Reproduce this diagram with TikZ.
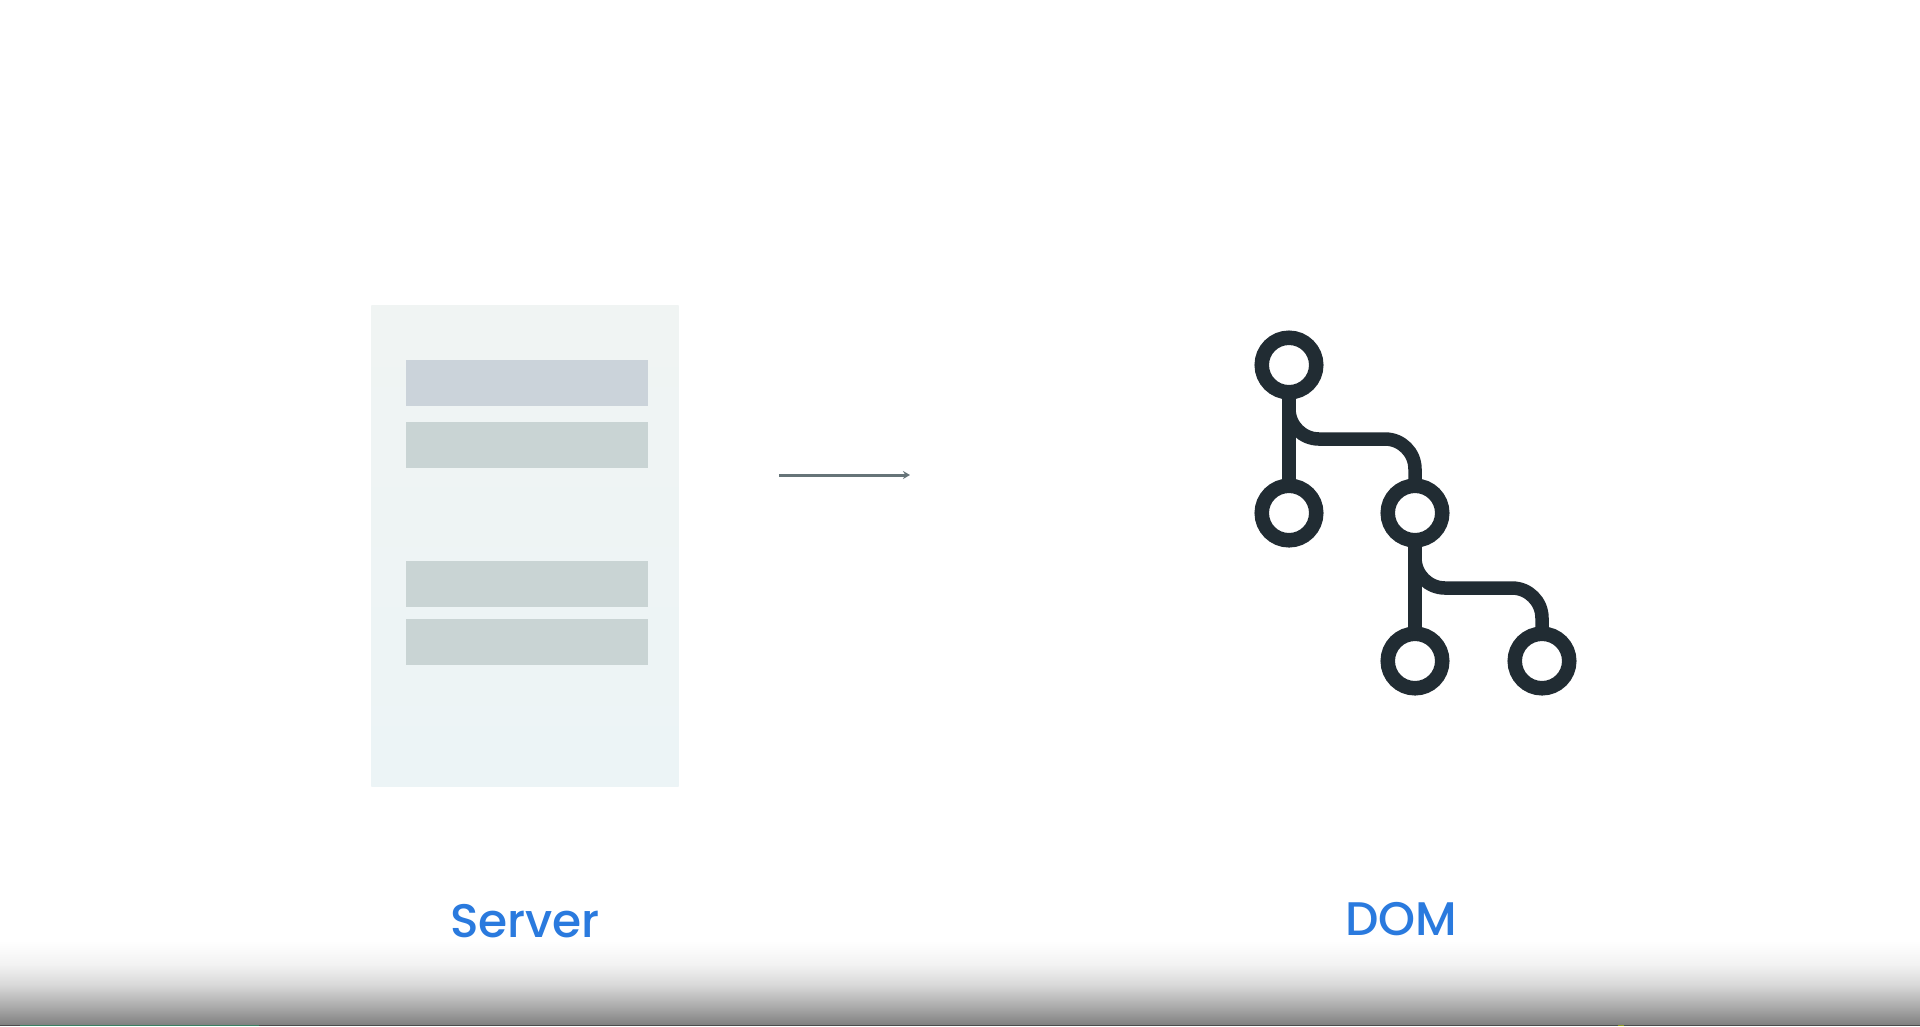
\documentclass[tikz,border=0pt]{standalone}
\usepackage{fontspec}
\setmainfont{Poppins}[UprightFont=* Medium]
\usetikzlibrary{arrows.meta}
\definecolor{pagetop}{HTML}{F0F4F3}
\definecolor{pagebottom}{HTML}{ECF4F6}
\definecolor{barone}{HTML}{CBD3DA}
\definecolor{bartwo}{HTML}{C9D4D4}
\definecolor{treedark}{HTML}{212C33}
\definecolor{labelblue}{HTML}{2A7ADE}
\definecolor{arrowgray}{HTML}{667478}
\definecolor{stripgreen}{HTML}{3B7F62}
\definecolor{stripolive}{HTML}{8E9A1E}
\pgfdeclareverticalshading{bottomfade}{100bp}{color(0bp)=(black!50); color(25bp)=(black!50); color(36bp)=(black!33); color(49bp)=(black!15); color(61bp)=(black!5); color(75bp)=(white); color(100bp)=(white)}

\begin{document}
\begin{tikzpicture}[x=.01cm, y=-.01cm]
	\tikzset{enclosed/.style={draw=treedark, circle, inner sep=0pt, outer sep=0pt, minimum size=.545cm, line width=.145cm, fill=white}}
	\tikzset{wire/.style={draw=treedark, line width=.135cm, rounded corners=.3cm}}
	\tikzset{textbar/.style={inner sep=0pt, minimum width=2.41cm, minimum height=.46cm}}
	\tikzset{caption/.style={text=labelblue, font=\fontsize{13.4}{16}\selectfont, inner sep=0pt}}
	
	\useasboundingbox (0,0) rectangle (1920,1026);
	\fill[white] (0,0) rectangle (1920,1026);
	\shade[shading=bottomfade] (0,941) rectangle (1920,1025);
	\fill[black!70] (0,1025) rectangle (1920,1026);
	\fill[stripgreen] (20,1025) rectangle (259,1026);
	\fill[stripolive] (1618,1025) rectangle (1624,1026);
	
	\node[top color=pagetop, bottom color=pagebottom, inner sep=0pt, minimum width=3.07cm, minimum height=4.8cm] (page) at (525,546) {};
	\node[textbar, fill=barone] (bar_0) at (527,383) {};
	\node[textbar, fill=bartwo] (bar_1) at (527,445) {};
	\node[textbar, fill=bartwo] (bar_2) at (527,584) {};
	\node[textbar, fill=bartwo] (bar_3) at (527,642) {};
	
	\coordinate (arrow_0) at (779,475);
	\coordinate (arrow_1) at (910,475);
	\draw[arrowgray, line width=.03cm, -{Stealth[length=.07cm, width=.08cm]}] (arrow_0) -- (arrow_1);
	
	\node[enclosed] (v_0) at (1289,365) {};
	\node[enclosed] (v_1) at (1289,513) {};
	\node[enclosed] (v_2) at (1415,513) {};
	\node[enclosed] (v_3) at (1415,661) {};
	\node[enclosed] (v_4) at (1542,661) {};
	\coordinate (b_0) at (1289,439);
	\coordinate (c_0) at (1415,439);
	\coordinate (b_1) at (1415,588);
	\coordinate (c_1) at (1542,588);
	
	\draw[line width=.135cm, treedark] (v_0.south) -- (v_1.north);
	\draw[line width=.135cm, treedark] (v_2.south) -- (v_3.north);
	\draw[wire] (v_0.south) -- (b_0) -- (c_0) -- (v_2.north);
	\draw[wire] (v_2.south) -- (b_1) -- (c_1) -- (v_4.north);
	
	\node[caption] (server) at (525,921) {Server};
	\node[caption] (dom) at (1401,919) {DOM};
\end{tikzpicture}
\end{document}
